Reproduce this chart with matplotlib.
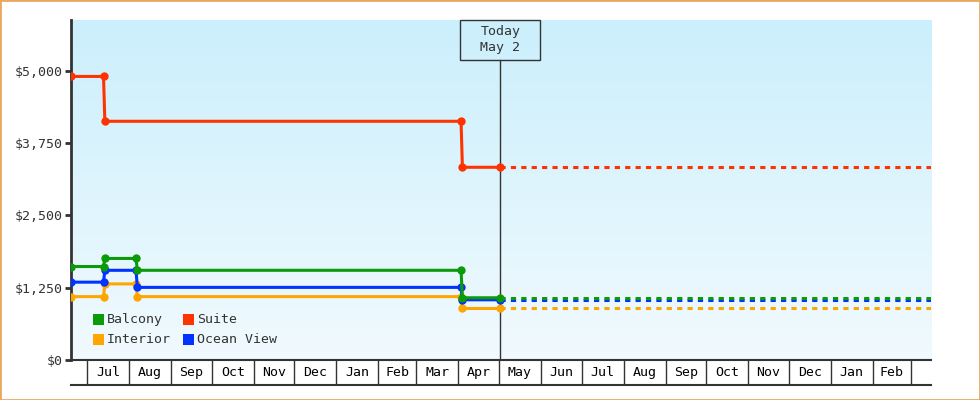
import datetime as dt
import numpy as np
import matplotlib
matplotlib.use("Agg")
import matplotlib.pyplot as plt
import matplotlib.dates as mdates
from matplotlib.patches import Rectangle
from matplotlib.transforms import blended_transform_factory

plt.rcParams['font.family'] = ['DejaVu Sans Mono']

# fare history (date, price) per cabin type
start_date = dt.date(2017, 6, 19)
today = dt.date(2018, 5, 2)
end_date = dt.date(2019, 3, 16)

change_dates = [dt.date(2017, 6, 19), dt.date(2017, 7, 13), dt.date(2017, 7, 14),
                dt.date(2017, 8, 6), dt.date(2017, 8, 7), dt.date(2018, 4, 3),
                dt.date(2018, 4, 4), dt.date(2018, 5, 2)]
suite_dates = [dt.date(2017, 6, 19), dt.date(2017, 7, 13), dt.date(2017, 7, 14),
               dt.date(2018, 4, 3), dt.date(2018, 4, 4), dt.date(2018, 5, 2)]

suite = [4900, 4900, 4125, 4125, 3330, 3330]
balcony = [1615, 1615, 1755, 1755, 1550, 1550, 1075, 1075]
ocean_view = [1345, 1345, 1550, 1550, 1255, 1255, 1040, 1040]
interior = [1095, 1095, 1315, 1315, 1095, 1095, 890, 890]

y_ticks = [0, 1250, 2500, 3750, 5000]
month_names = ["Jan", "Feb", "Mar", "Apr", "May", "Jun",
               "Jul", "Aug", "Sep", "Oct", "Nov", "Dec"]

colors = {"Balcony": "#0a9a0a", "Suite": "#ff3300",
          "Interior": "#ffa500", "Ocean View": "#0033ff"}
ink = "#333333"
fs = 9.5

fig = plt.figure(figsize=(9.8, 4.0), dpi=100)
ax = fig.add_axes([71 / 980, 40 / 400, 860 / 980, 340 / 400])

# background gradient
grad = np.linspace(0, 1, 256).reshape(-1, 1)
top = np.array([203, 239, 252]) / 255.0
bot = np.array([241, 250, 254]) / 255.0
img = top[None, None, :] * (1 - grad[:, :, None]) + bot[None, None, :] * grad[:, :, None]
ax.imshow(img, extent=[0, 1, 0, 1], transform=ax.transAxes, aspect="auto", zorder=0)

ax.set_xlim(mdates.date2num(start_date), mdates.date2num(end_date))
ax.set_ylim(0, 5875)

series = [("Interior", change_dates, interior),
          ("Ocean View", change_dates, ocean_view),
          ("Balcony", change_dates, balcony),
          ("Suite", suite_dates, suite)]
for z, (name, d, v) in enumerate(series):
    c = colors[name]
    ax.plot(d, v, color=c, lw=2.2, marker="o", ms=6, mec=c, mew=0,
            solid_joinstyle="miter", zorder=3 + z)
    ax.plot([today, end_date], [v[-1], v[-1]], color=c, lw=2.2,
            dashes=(1.7, 1.7), dash_capstyle="butt", zorder=3 + z)

# today marker
tnum = mdates.date2num(today)
ax.axvline(tnum, ymin=0, ymax=300 / 340, color=ink, lw=1, zorder=2)
bt = blended_transform_factory(ax.transData, ax.transAxes)
ax.add_patch(Rectangle((tnum - 29.5, 300 / 340), 59, 40 / 340, transform=bt,
                       fill=False, ec=ink, lw=1, clip_on=False, zorder=8))
ax.text(tnum, 320 / 340, "Today\n" + today.strftime("%b ") + str(today.day),
        transform=bt, ha="center", va="center", fontsize=fs, color=ink,
        linespacing=1.3, zorder=9)

# y axis
ax.set_yticks(y_ticks)
ax.set_yticklabels(["${:,}".format(t) for t in y_ticks])
ax.tick_params(axis="y", length=4, width=2, color=ink, labelsize=fs,
               labelcolor=ink, pad=2)
ax.set_xticks([])
for s in ["top", "right"]:
    ax.spines[s].set_visible(False)
ax.spines["left"].set_linewidth(2)
ax.spines["left"].set_color(ink)
ax.spines["bottom"].set_linewidth(1.5)
ax.spines["bottom"].set_color(ink)

# legend
legend_items = [("Balcony", 0, 0), ("Interior", 0, 1), ("Suite", 1, 0), ("Ocean View", 1, 1)]
for name, col, row in legend_items:
    x0 = (22 + 90 * col) / 860
    y0 = (35 - 20 * row) / 340
    ax.add_patch(Rectangle((x0, y0), 11 / 860, 11 / 340, transform=ax.transAxes,
                           fc=colors[name], ec="none", zorder=10))
    ax.text(x0 + 14 / 860, y0 + 5.5 / 340, name, transform=ax.transAxes,
            ha="left", va="center", fontsize=fs, color=ink, zorder=10)

# month boxes under the plot
mx = fig.add_axes([71 / 980, 15 / 400, 860 / 980, 25 / 400], sharex=ax)
mx.set_ylim(0, 1)
mx.set_yticks([])
mx.tick_params(axis="x", bottom=False, labelbottom=False)
for s in ["top", "right", "left"]:
    mx.spines[s].set_visible(False)
mx.spines["bottom"].set_linewidth(1.5)
mx.spines["bottom"].set_color(ink)
mx.patch.set_alpha(0)

y, m = start_date.year, start_date.month + 1
while True:
    if m > 12:
        y, m = y + 1, 1
    d0 = dt.date(y, m, 1)
    if d0 > end_date:
        break
    ny, nm = (y + 1, 1) if m == 12 else (y, m + 1)
    d1 = dt.date(ny, nm, 1)
    mx.axvline(mdates.date2num(d0), color=ink, lw=1)
    if d1 <= end_date:
        mid = (mdates.date2num(d0) + mdates.date2num(d1)) / 2
        mx.text(mid, 0.5, month_names[m - 1], ha="center", va="center",
                fontsize=fs, color="black")
    m += 1

fig.patches.append(Rectangle((0, 0), 1, 1, transform=fig.transFigure, fill=False,
                             ec="#e8a860", lw=2, zorder=20))

fig.savefig("out.png", dpi=100)
